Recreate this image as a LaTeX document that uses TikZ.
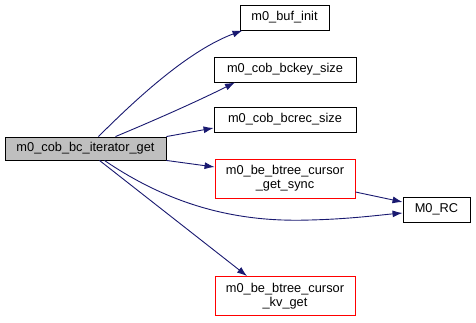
\documentclass[tikz,border=0pt]{standalone}
\usepackage{fontspec}
\setmainfont{Liberation Sans}
\usetikzlibrary{arrows.meta}
\definecolor{edgeColor}{RGB}{25,25,112}
\definecolor{rootFill}{RGB}{191,191,191}

\begin{document}
\begin{tikzpicture}[
        x=1pt, y=-1pt,
        fn/.style={
                draw,
                fill=white,
                line width=0.9pt,
                font=\fontsize{12.8}{14}\selectfont,
                align=center,
                inner sep=1pt,
                minimum height=25pt
            },
        fnred/.style={fn, draw=red, minimum height=39pt},
        call/.style={edgeColor, line width=0.9pt, -{Latex[length=10pt,width=7pt]}}
    ]

    % ---- frame ----
    \useasboundingbox (0,0) rectangle (476,322);

    % ---- caller ----
    \node[fn, fill=rootFill, minimum width=161pt, minimum height=23pt] (root) at (85.5,148.5) {m0\_cob\_bc\_iterator\_get};

    % ---- callees ----
    \node[fn, minimum width=89pt] (bufinit) at (284.5,17.5) {m0\_buf\_init};
    \node[fn, minimum width=142pt] (bckey) at (285,69.5) {m0\_cob\_bckey\_size};
    \node[fn, minimum width=142pt] (bcrec) at (285,119.5) {m0\_cob\_bcrec\_size};
    \node[fnred, minimum width=140pt] (getsync) at (285,178.5) {m0\_be\_btree\_cursor\\\_get\_sync};
    \node[fn, minimum width=67pt] (rc) at (436.5,209.5) {M0\_RC};
    \node[fnred, minimum width=140pt] (kvget) at (285,296) {m0\_be\_btree\_cursor\\\_kv\_get};

    % ---- calls ----
    \draw[call] ([xshift=13pt]root.north) .. controls (140,95) and (190,50) .. ([xshift=-42pt]bufinit.south);
    \draw[call] ([xshift=30pt]root.north) .. controls (160,118) and (200,100) .. ([xshift=-50pt]bckey.south);
    \draw[call] (root.north east) -- ([yshift=-8.5pt]bcrec.west);
    \draw[call] (root.south east) -- ([yshift=11.5pt]getsync.west);
    \draw[call] ([xshift=19pt]root.south) .. controls (180,212) and (250,222) .. (310,220)
        .. controls (350,219) and (380,215) .. ([yshift=-3.5pt]rc.west);
    \draw[call] ([xshift=14pt]root.south) -- ([xshift=-38pt]kvget.north);
    \draw[call] ([yshift=-13.5pt]getsync.east) -- ([yshift=7.5pt]rc.west);
\end{tikzpicture}
\end{document}
